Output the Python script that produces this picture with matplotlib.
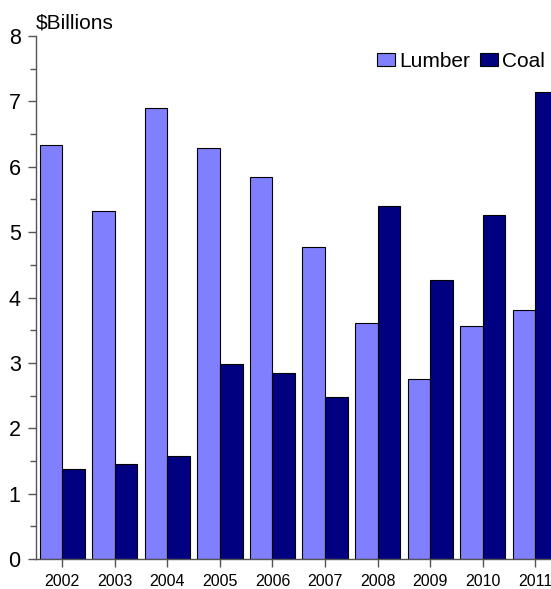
import matplotlib
matplotlib.use('Agg')
import matplotlib.pyplot as plt
import numpy as np
from matplotlib.ticker import MultipleLocator

years = ['2002', '2003', '2004', '2005', '2006', '2007', '2008', '2009', '2010', '2011']
lumber = [6.33, 5.32, 6.90, 6.28, 5.85, 4.78, 3.61, 2.75, 3.56, 3.81]
coal = [1.37, 1.45, 1.57, 2.99, 2.85, 2.48, 5.40, 4.27, 5.26, 7.15]

plt.rcParams['font.family'] = ['Liberation Sans', 'DejaVu Sans']

fig = plt.figure(figsize=(5.51, 5.89), dpi=100)
ax = fig.add_axes([36 / 551, 1 - 559 / 589, 525.5 / 551, 523 / 589])

x = np.arange(len(years))
w = 0.43
ax.bar(x - w / 2, lumber, w, color='#8080FF', edgecolor='black', linewidth=0.8, label='Lumber')
ax.bar(x + w / 2, coal, w, color='#000080', edgecolor='black', linewidth=0.8, label='Coal')

ax.set_xlim(-0.5, len(years) - 0.5)
ax.set_ylim(0, 8)
ax.set_xticks(x)
ax.set_xticklabels(years, fontsize=11.5)
ax.yaxis.set_major_locator(MultipleLocator(1))
ax.yaxis.set_minor_locator(MultipleLocator(0.5))
ax.tick_params(axis='y', labelsize=15.5, length=6, width=1, color='#555555', pad=5)
ax.tick_params(axis='y', which='minor', length=4, width=1, color='#555555')
ax.tick_params(axis='x', length=6, width=1, color='#555555', pad=5)

for side in ('top', 'right'):
    ax.spines[side].set_visible(False)
for side in ('left', 'bottom'):
    ax.spines[side].set_color('#555555')
    ax.spines[side].set_linewidth(1)

fig.text(36 / 551, 1 - 28 / 589, '$Billions', fontsize=15, va='baseline', ha='left')

ax.legend(loc='upper right', bbox_to_anchor=(545 / 551, 1 - 52 / 589),
          bbox_transform=fig.transFigure, ncol=2, frameon=False, fontsize=15,
          handlelength=0.85, handleheight=0.6, handletextpad=0.2, columnspacing=0.5,
          borderpad=0, borderaxespad=0)

fig.savefig('out.png', dpi=100)
